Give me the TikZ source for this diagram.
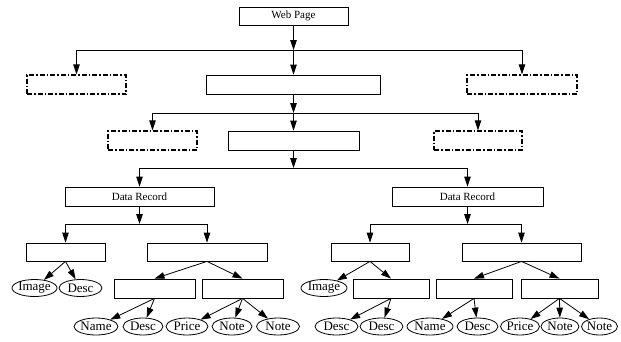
\documentclass[tikz,border=0pt]{standalone}
\usepackage{fontspec}
\setmainfont{Liberation Serif}
\usetikzlibrary{arrows.meta,shapes.geometric}

\tikzset{
    box/.style={draw, rectangle, inner sep=0pt, minimum height=19pt,
        font=\fontsize{11}{12}\selectfont},
    dbox/.style={box, line width=1.3pt,
        dash pattern=on 5pt off 2pt on 1.5pt off 2pt},
    leaf/.style={draw, ellipse, inner xsep=-6pt, inner ysep=-2pt, minimum width=41pt,
        minimum height=17pt, font=\fontsize{13}{14}\selectfont},
    arr/.style={-{Triangle[length=10pt,width=6.5pt]}},
}

\begin{document}
\begin{tikzpicture}[x=1pt,y=-1pt,line width=0.8pt]
            \useasboundingbox (0,0) rectangle (621,341);

            % top levels
            \node[box, minimum width=109pt, minimum height=18pt] (web) at (293.5,16) {Web Page};

            \node[dbox, minimum width=99pt] (d1l) at (76.5,84.5) {};
            \node[box, minimum width=174pt] (m1) at (293.5,84.5) {};
            \node[dbox, minimum width=110pt] (d1r) at (522,84.5) {};

            \node[dbox, minimum width=89pt] (d2l) at (152.5,140.5) {};
            \node[box, minimum width=131pt] (m2) at (293.5,140.5) {};
            \node[dbox, minimum width=88pt] (d2r) at (478,140.5) {};

            \node[box, minimum width=149pt] (rec1) at (139.5,196.5) {Data Record};
            \node[box, minimum width=151pt] (rec2) at (467.5,196.5) {Data Record};

            % bus points
            \coordinate (b1) at (293.5,50);
            \coordinate (b2) at (293.5,113);
            \coordinate (b3) at (293.5,168);
            \coordinate (b4l) at (139.5,224);
            \coordinate (b4r) at (467.5,224);

            \draw[arr] (web) -- (b1);
            \draw[arr] (b1) -| (d1l.north);
            \draw[arr] (b1) -- (m1.north);
            \draw[arr] (b1) -| (d1r.north);

            \draw[arr] (m1) -- (b2);
            \draw[arr] (b2) -| (d2l.north);
            \draw[arr] (b2) -- (m2.north);
            \draw[arr] (b2) -| (d2r.north);

            \draw[arr] (m2) -- (b3);
            \draw[arr] (b3) -| (rec1.north);
            \draw[arr] (b3) -| (rec2.north);

            \draw[arr] (rec1) -- (b4l);
            \draw[arr] (rec2) -- (b4r);

            % record boxes
            \node[box, minimum width=79pt, minimum height=18pt] (ga) at (65.5,252) {};
            \node[box, minimum width=120pt, minimum height=18pt] (gb) at (207,252) {};
            \node[box, minimum width=78pt, minimum height=18pt] (gc) at (370,252) {};
            \node[box, minimum width=119pt, minimum height=18pt] (gd) at (521.5,252) {};

            \draw[arr] (b4l) -| (ga.north);
            \draw[arr] (b4l) -| (gb.north);
            \draw[arr] (b4r) -| (gc.north);
            \draw[arr] (b4r) -| (gd.north);

            \node[leaf, minimum width=45pt] (img1) at (34.5,288) {Image};
            \node[leaf, minimum width=43pt] (dsc1) at (80.5,288) {Desc};
            \node[leaf, minimum width=46pt] (img2) at (324,288) {Image};

            \node[box, minimum width=81pt] (ha) at (154.5,288.5) {};
            \node[box, minimum width=81pt] (hb) at (242.5,288.5) {};
            \node[box, minimum width=76pt] (hc) at (391,288.5) {};
            \node[box, minimum width=76pt] (hd) at (474,288.5) {};
            \node[box, minimum width=77pt] (he) at (559.5,288.5) {};

            \foreach \p/\c in {ga/img1,ga/dsc1,gc/img2}{
                \draw[arr] (\p.south) -- (\c);
            }
            \foreach \p/\c in {gb/ha,gb/hb,gc/hc,gd/hd,gd/he}{
                \draw[arr] (\p.south) -- (\c.north);
            }

            % leaves
            \foreach \n/\x/\w/\t in {la/96/44/Name,lb/143/40/Desc,lc/187/42/Price,ld/232/40/Note,le/278/43/Note,
                lf/336.5/43/Desc,lg/381.5/43/Desc,lh/430/46/Name,li/477.5/41/Desc,lj/520/39/Price,lk/560/38/Note,ll/599.5/36/Note}{
                \node[leaf, minimum width=\w pt] (\n) at (\x,326.5) {\t};
            }

            \foreach \p/\c in {ha/la,ha/lb,hb/lc,hb/ld,hb/le,hc/lf,hc/lg,hd/lh,hd/li,he/lj,he/lk,he/ll}{
                \draw[arr] (\p.south) -- (\c);
            }
        \end{tikzpicture}
\end{document}
